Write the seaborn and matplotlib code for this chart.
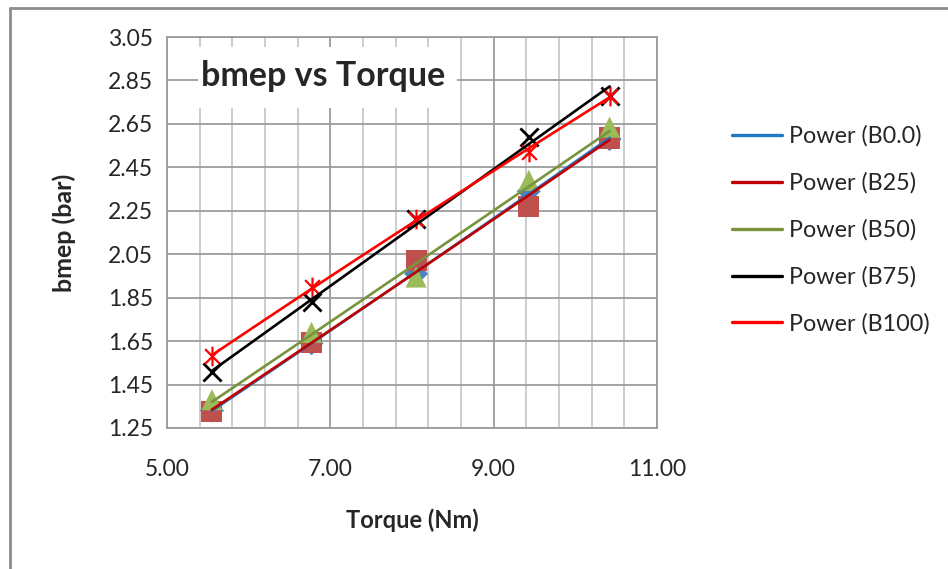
import numpy as np
import pandas as pd
import matplotlib
matplotlib.use("Agg")
import matplotlib.pyplot as plt
from matplotlib.path import Path
from matplotlib.patches import Rectangle
from matplotlib.ticker import FixedLocator, FormatStrFormatter
import seaborn as sns

# Torque (Nm) at each load step
torque = [5.55, 6.77, 8.05, 9.43, 10.42]

# bmep (bar) for each blend
bmep_b0 = [1.33, 1.64, 1.96, 2.34, 2.58]
bmep_b25 = [1.325, 1.643, 2.02, 2.27, 2.585]
bmep_b50 = [1.38, 1.69, 1.945, 2.39, 2.635]
bmep_b75 = [1.51, 1.83, 2.21, 2.59, 2.78]
bmep_b100 = [1.58, 1.90, 2.21, 2.52, 2.78]

blends = ["B0.0", "B25", "B50", "B75", "B100"]
series = [bmep_b0, bmep_b25, bmep_b50, bmep_b75, bmep_b100]

x_ticks = [5.0, 7.0, 9.0, 11.0]
y_ticks = [1.25, 1.45, 1.65, 1.85, 2.05, 2.25, 2.45, 2.65, 2.85, 3.05]

# Asterisk marker: vertical bar plus an X
star_path = Path(
    [(0, -1), (0, 1), (-0.75, -0.75), (0.75, 0.75), (-0.75, 0.75), (0.75, -0.75)],
    [Path.MOVETO, Path.LINETO, Path.MOVETO, Path.LINETO, Path.MOVETO, Path.LINETO],
)

marker_style = {
    "B0.0": dict(marker="D", color="#4f81bd", s=150, lw=0),
    "B25": dict(marker="s", color="#c0504d", s=230, lw=0),
    "B50": dict(marker="^", color="#9bbb59", s=230, lw=0),
    "B75": dict(marker="x", color="#000000", s=170, lw=2.0),
    "B100": dict(marker=star_path, color="#ff0000", s=200, lw=1.6),
}
trend_colors = {
    "B0.0": "#1f78c8",
    "B25": "#c00000",
    "B50": "#77933c",
    "B75": "#000000",
    "B100": "#ff0000",
}

df = pd.DataFrame(
    [(t, v, b) for b, vals in zip(blends, series) for t, v in zip(torque, vals)],
    columns=["Torque", "bmep", "Blend"],
)

# Power-law trendlines y = a * x^b fitted on the log-log data
trend_rows = []
xs = np.linspace(min(torque), max(torque), 60)
for b, vals in zip(blends, series):
    k, c = np.polyfit(np.log(torque), np.log(vals), 1)
    for x in xs:
        trend_rows.append((x, np.exp(c) * x ** k, f"Power ({b})"))
trend = pd.DataFrame(trend_rows, columns=["Torque", "bmep", "Trend"])

sns.set_style("white")
plt.rcParams["font.family"] = ["Lato", "DejaVu Sans"]

fig = plt.figure(figsize=(9.48, 5.69), dpi=100)
ax = fig.add_axes([167 / 948, 1 - 428 / 569, 490 / 948, 391 / 569])

for b in blends:
    st = marker_style[b]
    sns.scatterplot(
        data=df[df["Blend"] == b], x="Torque", y="bmep", ax=ax,
        marker=st["marker"], s=st["s"], color=st["color"],
        edgecolor=st["color"] if st["lw"] else "none", linewidth=st["lw"],
        zorder=3, legend=False,
    )

sns.lineplot(
    data=trend, x="Torque", y="bmep", hue="Trend",
    palette=[trend_colors[b] for b in blends], linewidth=1.9,
    ax=ax, zorder=4, sort=False,
)

ax.set_xlim(5, 11)
ax.set_ylim(1.25, 3.05)
ax.xaxis.set_major_locator(FixedLocator(x_ticks))
ax.xaxis.set_minor_locator(FixedLocator(
    [v for v in np.round(np.arange(5.0, 11.01, 0.4), 2) if v not in x_ticks]))
ax.yaxis.set_major_locator(FixedLocator(y_ticks))
ax.xaxis.set_major_formatter(FormatStrFormatter("%.2f"))
ax.yaxis.set_major_formatter(FormatStrFormatter("%.2f"))

ax.grid(True, which="major", color="#9c9c9c", linewidth=1.3, zorder=0)
ax.grid(True, which="minor", axis="x", color="#c8c8c8", linewidth=1.3, zorder=0)
ax.set_axisbelow(True)
for side, sp in ax.spines.items():
    sp.set_color("#9c9c9c")
    sp.set_linewidth(1.3)

ax.tick_params(axis="both", which="major", direction="out", length=6,
               width=1.3, color="#8c8c8c", labelsize=16.5, pad=4)
ax.tick_params(axis="x", which="minor", length=0)
ax.tick_params(axis="x", which="major", pad=16)

ax.set_xlabel("Torque (Nm)", fontsize=17, fontweight="bold", labelpad=21)
ax.set_ylabel("bmep (bar)", fontsize=18, fontweight="bold", labelpad=23)

# Title on a white panel that hides the grid behind it
ax.add_patch(Rectangle((0.063, 0.818), 0.529, 0.156, transform=ax.transAxes,
                       facecolor="white", edgecolor="none", zorder=2))
ax.text(0.319, 0.900, "bmep vs Torque", transform=ax.transAxes,
        fontsize=24.5, fontweight="bold", ha="center", va="center", zorder=5)

leg = ax.legend(loc="center left", bbox_to_anchor=(732 / 948, 1 - 230 / 569),
                bbox_transform=fig.transFigure, frameon=False,
                fontsize=16.8, handlelength=2.16, handletextpad=0.3,
                labelspacing=1.09, borderpad=0, borderaxespad=0)
for line in leg.get_lines():
    line.set_linewidth(2.4)

# Chart-area border along the top and left
fig.add_artist(plt.Line2D([10 / 948, 1], [1 - 8 / 569, 1 - 8 / 569],
                          transform=fig.transFigure, color="#8c8c8c", lw=2))
fig.add_artist(plt.Line2D([10 / 948, 10 / 948], [0, 1 - 8 / 569],
                          transform=fig.transFigure, color="#8c8c8c", lw=2))

fig.savefig("out.png", dpi=100)
